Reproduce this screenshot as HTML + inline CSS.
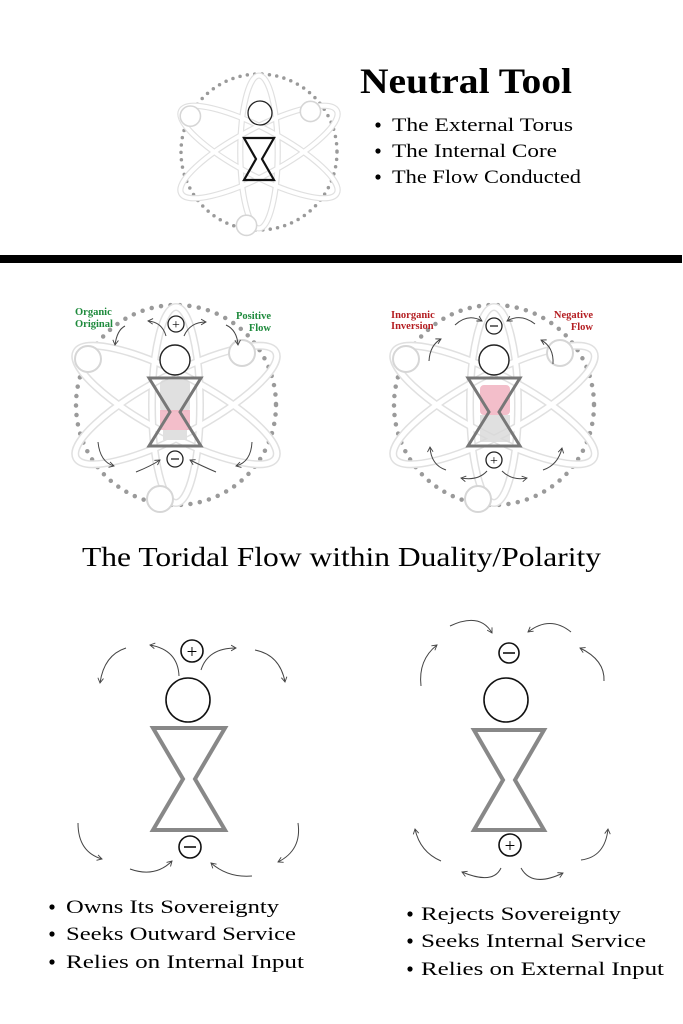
<!DOCTYPE html>
<html><head><meta charset="utf-8"><style>
html,body{margin:0;padding:0;background:#fff;}
svg{display:block;}
text{font-family:"Liberation Serif",serif;}
</style></head><body>
<svg width="683" height="1024" viewBox="0 0 683 1024" xmlns="http://www.w3.org/2000/svg">
<defs>
<marker id="ah" viewBox="0 0 10 10" refX="8" refY="5" markerWidth="7" markerHeight="7" orient="auto-start-reverse">
<path d="M1,1 L8,5 L1,9" fill="none" stroke="#444" stroke-width="1.3"/>
</marker>
<g id="atom">
<circle cx="0" cy="0" r="100" fill="none" stroke="#9a9a9a" stroke-width="4.5" stroke-dasharray="0 9.5" stroke-linecap="round"/>
<g fill="none" stroke="#e0e0e0" stroke-width="8">
<ellipse cx="0" cy="0" rx="24" ry="98"/>
<ellipse cx="0" cy="0" rx="113" ry="30" transform="rotate(28)"/>
<ellipse cx="0" cy="0" rx="113" ry="30" transform="rotate(-28)"/>
</g>
<g fill="none" stroke="#fff" stroke-width="5">
<ellipse cx="0" cy="0" rx="24" ry="98"/>
<ellipse cx="0" cy="0" rx="113" ry="30" transform="rotate(28)"/>
<ellipse cx="0" cy="0" rx="113" ry="30" transform="rotate(-28)"/>
</g>
<g fill="#fff" stroke="#d6d6d6" stroke-width="2">
<circle cx="-88" cy="-46" r="13"/>
<circle cx="66" cy="-52" r="13"/>
<circle cx="-16" cy="94" r="13"/>
</g>
</g>
</defs>

<!-- TOP -->
<g transform="translate(259,152) scale(0.78)"><use href="#atom"/></g>
<circle cx="260" cy="113" r="12" fill="none" stroke="#222" stroke-width="1.3"/>
<path d="M244,138 L274,138 L262,159 L274,180 L244,180 L256,159 Z" fill="none" stroke="#111" stroke-width="2.2"/>

<text x="360" y="93" font-size="36" font-weight="bold" textLength="212" lengthAdjust="spacingAndGlyphs">Neutral Tool</text>
<g font-size="19">
<circle cx="378" cy="125" r="2.6" fill="#000"/><text x="392" y="131" textLength="181" lengthAdjust="spacingAndGlyphs">The External Torus</text>
<circle cx="378" cy="151" r="2.6" fill="#000"/><text x="392" y="157" textLength="165" lengthAdjust="spacingAndGlyphs">The Internal Core</text>
<circle cx="378" cy="177" r="2.6" fill="#000"/><text x="392" y="183" textLength="189" lengthAdjust="spacingAndGlyphs">The Flow Conducted</text>
</g>

<rect x="0" y="255" width="682" height="8" fill="#000"/>

<!-- MIDDLE LEFT -->
<g transform="translate(176,405)"><use href="#atom"/></g>
<rect x="160" y="380" width="30" height="32" rx="4" fill="#d8d8d8" opacity="0.8"/>
<rect x="160" y="410" width="30" height="20" fill="#f2b7c4" opacity="0.9"/>
<rect x="163" y="430" width="24" height="10" fill="#e0e0e0"/>
<circle cx="175" cy="360" r="15" fill="#fff" stroke="#222" stroke-width="1.4"/>
<path d="M149,378 L201,378 L180,412 L201,446 L149,446 L170,412 Z" fill="none" stroke="#777" stroke-width="3"/>
<circle cx="176" cy="324" r="8" fill="#fff" stroke="#222" stroke-width="1.3"/>
<text x="176" y="329" font-size="14" text-anchor="middle" font-family="Liberation Sans">+</text>
<circle cx="175" cy="459" r="8" fill="#fff" stroke="#222" stroke-width="1.3"/>
<line x1="171" y1="459" x2="179" y2="459" stroke="#222" stroke-width="1.3"/>
<text x="75" y="315" font-size="10.5" font-weight="bold" fill="#1e8a3c">Organic</text>
<text x="75" y="327" font-size="10.5" font-weight="bold" fill="#1e8a3c">Original</text>
<text x="271" y="319" font-size="10.5" font-weight="bold" fill="#1e8a3c" text-anchor="end">Positive</text>
<text x="271" y="331" font-size="10.5" font-weight="bold" fill="#1e8a3c" text-anchor="end">Flow</text>
<g fill="none" stroke="#444" stroke-width="1" marker-end="url(#ah)">
<path d="M166,336 Q162,322 148,321"/>
<path d="M184,336 Q190,322 206,322"/>
<path d="M125,326 Q117,330 115,345"/>
<path d="M226,325 Q237,330 238,345"/>
<path d="M98,442 Q100,462 114,466"/>
<path d="M252,442 Q251,462 236,466"/>
<path d="M136,472 Q151,466 160,460"/>
<path d="M216,472 Q202,466 190,460"/>
</g>

<!-- MIDDLE RIGHT -->
<g transform="translate(494,405)"><use href="#atom"/></g>
<rect x="480" y="385" width="30" height="30" rx="4" fill="#f2b7c4" opacity="0.9"/>
<rect x="480" y="415" width="30" height="27" fill="#d8d8d8" opacity="0.8"/>
<circle cx="494" cy="360" r="15" fill="#fff" stroke="#222" stroke-width="1.4"/>
<path d="M468,378 L520,378 L499,412 L520,446 L468,446 L489,412 Z" fill="none" stroke="#777" stroke-width="3"/>
<circle cx="494" cy="326" r="8" fill="#fff" stroke="#222" stroke-width="1.3"/>
<line x1="490" y1="326" x2="498" y2="326" stroke="#222" stroke-width="1.3"/>
<circle cx="494" cy="460" r="8" fill="#fff" stroke="#222" stroke-width="1.3"/>
<text x="494" y="465" font-size="14" text-anchor="middle" font-family="Liberation Sans">+</text>
<text x="391" y="318" font-size="10.5" font-weight="bold" fill="#b41e22">Inorganic</text>
<text x="391" y="329" font-size="10.5" font-weight="bold" fill="#b41e22">Inversion</text>
<text x="593" y="318" font-size="10.5" font-weight="bold" fill="#b41e22" text-anchor="end">Negative</text>
<text x="593" y="330" font-size="10.5" font-weight="bold" fill="#b41e22" text-anchor="end">Flow</text>
<g fill="none" stroke="#444" stroke-width="1" marker-end="url(#ah)">
<path d="M455,325 Q468,313 482,321"/>
<path d="M535,324 Q521,313 507,321"/>
<path d="M429,361 Q430,345 441,339"/>
<path d="M553,364 Q554,347 541,340"/>
<path d="M446,470 Q431,465 430,447"/>
<path d="M543,470 Q558,465 562,448"/>
<path d="M487,471 Q478,481 461,478"/>
<path d="M502,471 Q512,481 527,478"/>
</g>

<text x="82" y="566" font-size="27" textLength="519" lengthAdjust="spacingAndGlyphs">The Toridal Flow within Duality/Polarity</text>

<!-- BOTTOM LEFT -->
<circle cx="192" cy="651" r="11" fill="#fff" stroke="#111" stroke-width="1.6"/>
<text x="192" y="658" font-size="19" text-anchor="middle" font-family="Liberation Sans">+</text>
<circle cx="188" cy="700" r="22" fill="none" stroke="#111" stroke-width="1.6"/>
<path d="M153,728 L225,728 L195,779 L225,830 L153,830 L183,779 Z" fill="none" stroke="#888" stroke-width="4"/>
<circle cx="190" cy="847" r="11" fill="#fff" stroke="#111" stroke-width="1.6"/>
<line x1="184" y1="847" x2="196" y2="847" stroke="#111" stroke-width="1.6"/>
<g fill="none" stroke="#444" stroke-width="1" marker-end="url(#ah)">
<path d="M179,676 Q178,650 150,645"/>
<path d="M201,670 Q208,648 236,648"/>
<path d="M126,648 Q104,655 100,683"/>
<path d="M255,650 Q280,655 285,682"/>
<path d="M78,823 Q78,852 102,859"/>
<path d="M298,823 Q302,850 278,862"/>
<path d="M130,869 Q155,878 172,861"/>
<path d="M252,876 Q228,878 211,863"/>
</g>
<g font-size="19">
<circle cx="52" cy="907" r="2.6" fill="#000"/><text x="66" y="913" textLength="213" lengthAdjust="spacingAndGlyphs">Owns Its Sovereignty</text>
<circle cx="52" cy="934" r="2.6" fill="#000"/><text x="66" y="940" textLength="230" lengthAdjust="spacingAndGlyphs">Seeks Outward Service</text>
<circle cx="52" cy="962" r="2.6" fill="#000"/><text x="66" y="968" textLength="238" lengthAdjust="spacingAndGlyphs">Relies on Internal Input</text>
</g>

<!-- BOTTOM RIGHT -->
<circle cx="509" cy="653" r="10" fill="#fff" stroke="#111" stroke-width="1.6"/>
<line x1="503" y1="653" x2="515" y2="653" stroke="#111" stroke-width="1.6"/>
<circle cx="506" cy="700" r="22" fill="none" stroke="#111" stroke-width="1.6"/>
<path d="M474,730 L544,730 L515,780 L544,830 L474,830 L503,780 Z" fill="none" stroke="#888" stroke-width="4"/>
<circle cx="510" cy="845" r="11" fill="#fff" stroke="#111" stroke-width="1.6"/>
<text x="510" y="852" font-size="19" text-anchor="middle" font-family="Liberation Sans">+</text>
<g fill="none" stroke="#444" stroke-width="1" marker-end="url(#ah)">
<path d="M450,626 Q480,612 492,633"/>
<path d="M571,632 Q550,615 528,632"/>
<path d="M421,686 Q418,660 437,645"/>
<path d="M604,681 Q605,660 580,648"/>
<path d="M441,861 Q420,852 415,829"/>
<path d="M581,860 Q605,857 608,829"/>
<path d="M501,868 Q493,885 462,872"/>
<path d="M521,868 Q532,888 563,873"/>
</g>
<g font-size="19">
<circle cx="410" cy="914" r="2.6" fill="#000"/><text x="421" y="920" textLength="200" lengthAdjust="spacingAndGlyphs">Rejects Sovereignty</text>
<circle cx="410" cy="941" r="2.6" fill="#000"/><text x="421" y="947" textLength="225" lengthAdjust="spacingAndGlyphs">Seeks Internal Service</text>
<circle cx="410" cy="969" r="2.6" fill="#000"/><text x="421" y="975" textLength="243" lengthAdjust="spacingAndGlyphs">Relies on External Input</text>
</g>
</svg>
</body></html>
